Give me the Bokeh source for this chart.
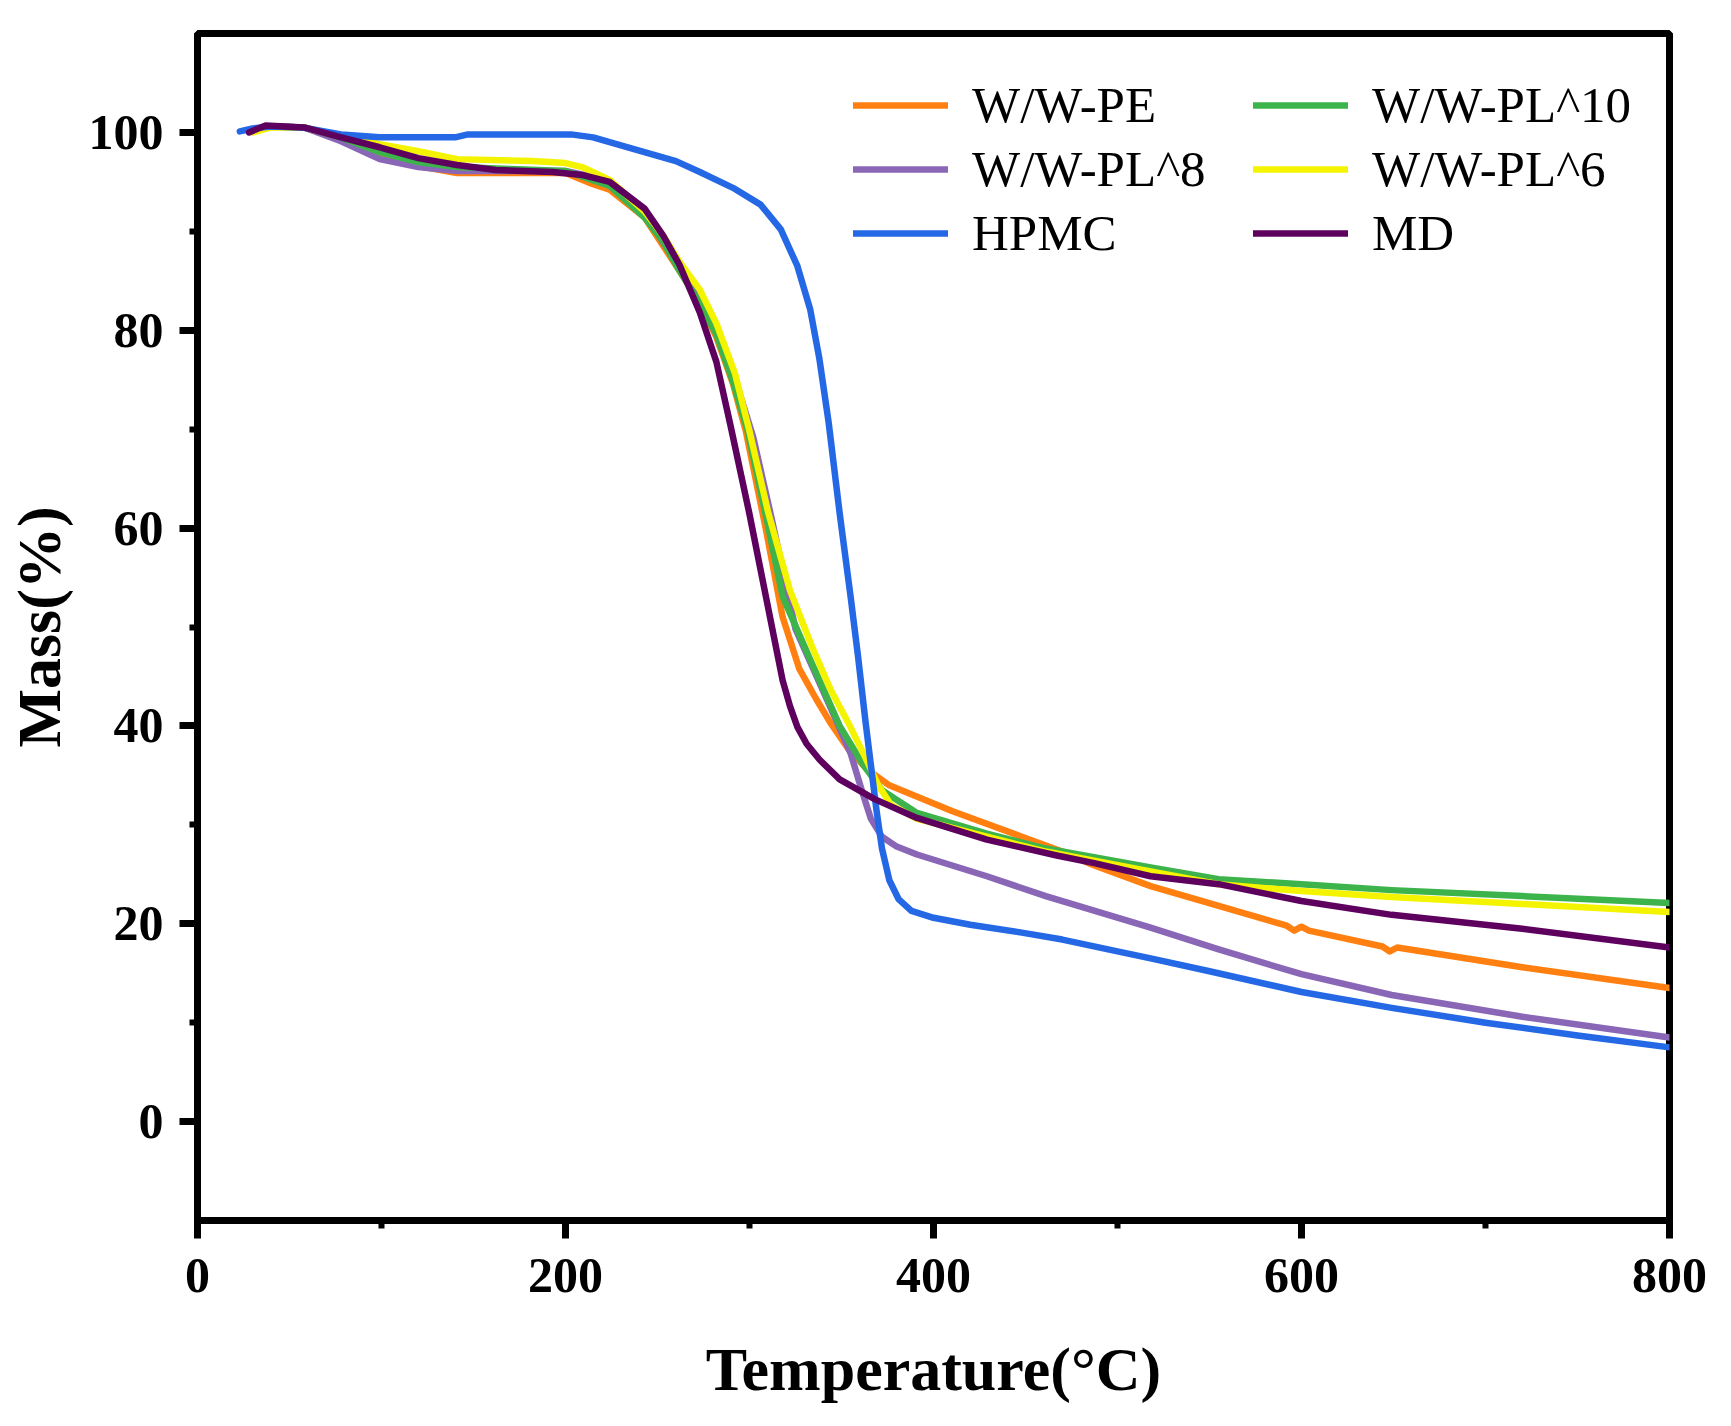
from bokeh.plotting import figure
from bokeh.models import Range1d, FixedTicker, Legend, LegendItem
from bokeh.embed import file_html
from bokeh.resources import INLINE

# ---------------- data ----------------
pe_T = [30, 40, 58, 78, 99, 120, 141, 170, 200, 213, 224, 243, 262, 273, 282, 291, 298, 309, 318,
        327, 336, 344, 354, 364, 376, 410, 448, 470, 486, 518, 555, 592, 596, 600, 604, 644, 648,
        652, 720, 800]
pe_M = [100.2, 100.6, 100.5, 99.3, 97.8, 96.6, 95.9, 95.9, 95.9, 94.9, 94.2, 91.4, 86.0, 82.8, 79.3,
        74.6, 69.8, 59.8, 51.0, 45.8, 42.8, 40.3, 37.6, 35.6, 34.0, 31.4, 28.8, 27.3, 26.0, 23.8,
        21.8, 19.8, 19.3, 19.7, 19.3, 17.7, 17.2, 17.6, 15.6, 13.5]

pl8_T = [30, 40, 58, 78, 99, 120, 141, 170, 200, 215, 224, 243, 262, 273, 282, 292, 302, 312, 325,
         336, 347, 355, 361, 366, 372, 380, 391, 429, 461, 518, 555, 600, 649, 720, 800]
pl8_M = [100.2, 100.6, 100.5, 99.1, 97.3, 96.5, 96.1, 96.1, 96.1, 95.5, 94.6, 91.8, 86.3, 83.1, 79.8,
         75.2, 69.2, 61.0, 49.8, 45.2, 40.6, 37.2, 33.5, 30.6, 28.8, 27.8, 27.0, 24.8, 22.8, 19.6,
         17.4, 14.9, 12.8, 10.6, 8.5]

hpmc_T = [23, 30, 40, 57, 78, 99, 120, 140, 147, 170, 203, 215, 241, 260, 273, 291, 306, 317, 326,
          333, 338, 343, 349, 355, 359, 363, 366, 369, 372, 376, 381, 388, 400, 420, 448, 470, 500,
          518, 550, 600, 649, 700, 750, 800]
hpmc_M = [100.1, 100.4, 100.6, 100.5, 99.8, 99.5, 99.5, 99.5, 99.8, 99.8, 99.8, 99.5, 98.1, 97.1,
          96.0, 94.4, 92.7, 90.2, 86.5, 82.1, 77.1, 70.7, 61.5, 53.0, 47.0, 40.5, 36.0, 31.5, 27.6,
          24.4, 22.5, 21.3, 20.6, 19.9, 19.1, 18.4, 17.2, 16.5, 15.2, 13.1, 11.5, 10.0, 8.7, 7.5]

pl10_T = [30, 40, 58, 78, 99, 120, 141, 170, 200, 224, 243, 253, 262, 272, 282, 291, 299, 309, 318,
          333, 349, 361, 372, 391, 429, 461, 518, 555, 600, 649, 720, 800]
pl10_M = [100.2, 100.6, 100.5, 99.5, 98.0, 97.0, 96.5, 96.3, 96.1, 94.6, 91.4, 89.0, 86.0, 83.0, 79.6,
          74.8, 69.8, 61.2, 53.1, 46.7, 40.0, 36.3, 33.5, 31.2, 29.1, 27.6, 25.7, 24.5, 24.0, 23.4,
          22.8, 22.1]

pl6_T = [30, 40, 58, 78, 99, 120, 141, 182, 200, 209, 224, 243, 253, 262, 273, 282, 292, 300, 310,
         322, 334, 344, 354, 363, 370, 377, 391, 429, 461, 518, 555, 600, 649, 720, 800]
pl6_M = [100.0, 100.5, 100.5, 99.6, 98.8, 98.1, 97.3, 97.1, 96.9, 96.5, 95.2, 92.0, 89.6, 86.9, 84.1,
         80.7, 75.7, 69.8, 61.7, 53.7, 48.0, 43.7, 40.2, 36.8, 34.0, 32.0, 30.6, 28.8, 27.3, 25.3,
         24.0, 23.3, 22.7, 22.0, 21.2]

md_T = [28, 37, 58, 78, 99, 120, 141, 162, 193, 209, 224, 243, 253, 262, 273, 282, 290, 300, 309,
        318, 322, 326, 331, 338, 349, 368, 391, 429, 467, 488, 518, 555, 600, 649, 720, 800]
md_M = [100.0, 100.7, 100.5, 99.5, 98.5, 97.4, 96.7, 96.2, 96.0, 95.7, 95.0, 92.3, 89.6, 86.6, 81.8,
        76.8, 70.1, 61.4, 53.0, 44.6, 42.0, 39.9, 38.2, 36.6, 34.6, 32.6, 30.7, 28.5, 26.9, 26.1,
        24.8, 24.0, 22.3, 20.9, 19.5, 17.6]

x_ticks = [0, 200, 400, 600, 800]
x_minor = [100, 300, 500, 700]
y_ticks = [0, 20, 40, 60, 80, 100]
y_minor = [10, 30, 50, 70, 90]

names = ["W/W-PE", "W/W-PL^8", "HPMC", "W/W-PL^10", "W/W-PL^6", "MD"]
colors = ["#FF8010", "#8A66B6", "#2468E6", "#3CB44B", "#F4F400", "#5E005E"]

# ---------------- figure ----------------
p = figure(width=1715, height=1410, output_backend="svg", toolbar_location=None,
           x_range=Range1d(0, 800), y_range=Range1d(-10, 110),
           min_border_left=197, min_border_right=46, min_border_top=33, min_border_bottom=190)
p.grid.visible = False
p.outline_line_color = "black"
p.outline_line_width = 7
p.outline_line_alpha = 1.0
p.background_fill_color = "white"
p.border_fill_color = "white"

for ax, ticks, minor in ((p.xaxis, x_ticks, x_minor), (p.yaxis, y_ticks, y_minor)):
    ax.ticker = FixedTicker(ticks=ticks, minor_ticks=minor)
    ax.axis_line_width = 7
    ax.axis_line_color = "black"
    ax.major_tick_line_width = 7
    ax.minor_tick_line_width = 6
    ax.major_tick_out = 18
    ax.major_tick_in = 0
    ax.minor_tick_out = 8
    ax.minor_tick_in = 0
    ax.major_label_text_font = "Liberation Serif"
    ax.major_label_text_font_style = "bold"
    ax.major_label_text_font_size = "50px"
    ax.major_label_text_color = "black"
    ax.axis_label_text_font = "Liberation Serif"
    ax.axis_label_text_font_style = "bold"
    ax.axis_label_text_font_size = "62px"
    ax.axis_label_text_color = "black"

p.xaxis.axis_label = "Temperature(°C)"
p.yaxis.axis_label = "Mass(%)"
p.xaxis.major_label_standoff = 20
p.yaxis.major_label_standoff = 16
p.xaxis.axis_label_standoff = 40
p.yaxis.axis_label_standoff = 13

series = [(pe_T, pe_M), (pl8_T, pl8_M), (hpmc_T, hpmc_M), (pl10_T, pl10_M), (pl6_T, pl6_M), (md_T, md_M)]
draw_order = [0, 1, 3, 4, 2, 5]
renderers = {}
for i in draw_order:
    t, m = series[i]
    renderers[i] = p.line(t, m, line_color=colors[i], line_width=6.5, line_join="round", line_cap="round")

def make_legend(idx, loc):
    leg = Legend(items=[LegendItem(label=names[i], renderers=[renderers[i]]) for i in idx],
                 location=loc, orientation="vertical")
    leg.label_text_font = "Liberation Serif"
    leg.label_text_font_size = "51px"
    leg.label_text_color = "black"
    leg.glyph_width = 95
    leg.glyph_height = 40
    leg.label_height = 40
    leg.label_standoff = 24
    leg.spacing = 6
    leg.padding = 0
    leg.margin = 0
    leg.border_line_color = None
    leg.background_fill_alpha = 0
    return leg

p.add_layout(make_legend([0, 1, 2], (656, 958)))
p.add_layout(make_legend([3, 4, 5], (1056, 958)))

open("out.html", "w").write(file_html(p, INLINE))
